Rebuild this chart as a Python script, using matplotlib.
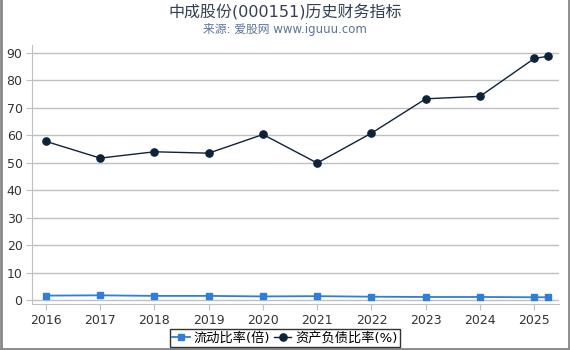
import matplotlib
matplotlib.use("Agg")
import matplotlib.pyplot as plt
from matplotlib.lines import Line2D

plt.rcParams['font.family'] = ['DejaVu Sans', 'Noto Sans CJK SC']

years = [2016, 2017, 2018, 2019, 2020, 2021, 2022, 2023, 2024, 2025, 2025.25]
current_ratio = [1.6, 1.7, 1.5, 1.5, 1.3, 1.4, 1.2, 1.1, 1.1, 1.0, 1.0]
debt_ratio = [57.8, 51.7, 54.0, 53.5, 60.3, 49.9, 60.8, 73.3, 74.2, 88.0, 88.8]
xticks = [2016, 2017, 2018, 2019, 2020, 2021, 2022, 2023, 2024, 2025]
yticks = [0, 10, 20, 30, 40, 50, 60, 70, 80, 90]
title = "中成股份(000151)历史财务指标"
subtitle = "来源: 爱股网 www.iguuu.com"
labels = ["流动比率(倍)", "资产负债比率(%)"]

fig = plt.figure(figsize=(5.7, 3.5), dpi=100)
ax = fig.add_axes([0.0567, 0.1314, 0.924, 0.74])

ax.plot(years, current_ratio, color='#2f7ed8', marker='s', markersize=5, linewidth=1.3,
        label=labels[0], zorder=3)
ax.plot(years, debt_ratio, color='#0d233a', marker='o', markersize=5.2, linewidth=1.0,
        label=labels[1], zorder=3)

ax.set_xlim(2015.75, 2025.455)
ax.set_ylim(-1.46, 92.9)
ax.set_xticks(xticks)
ax.set_xticklabels([str(t) for t in xticks])
ax.set_yticks(yticks)
ax.grid(axis='y', color='#c0c0c0', linewidth=1)
ax.set_axisbelow(True)
for s in ['top', 'right']:
    ax.spines[s].set_visible(False)
for s in ['left', 'bottom']:
    ax.spines[s].set_color('#c0c0c0')
ax.tick_params(axis='both', colors='#c0c0c0', labelcolor='#333333', labelsize=9, length=4)
ax.tick_params(axis='y', pad=3)

fig.text(0.5, 1 - 12 / 350, title, ha='center', va='center', fontsize=11.5, color='#333f55')
fig.text(0.5, 1 - 29 / 350, subtitle, ha='center', va='center', fontsize=8.5, color='#5b7599')

leg = fig.legend(loc='center', bbox_to_anchor=(0.5, 1 - 338 / 350), ncol=2, frameon=True,
                 fancybox=False, fontsize=9.5, handlelength=1.3, handletextpad=0.3,
                 columnspacing=0.3, borderpad=0.2, borderaxespad=0)
leg.get_frame().set_edgecolor('black')
leg.get_frame().set_linewidth(1)

# figure border
for coords in [([0.002, 0.002], [0, 1]), ([0.998, 0.998], [0, 1]), ([0, 1], [0.003, 0.003])]:
    fig.add_artist(Line2D(coords[0], coords[1], transform=fig.transFigure, color='#888888', linewidth=2))

fig.savefig('out.png', dpi=100)
